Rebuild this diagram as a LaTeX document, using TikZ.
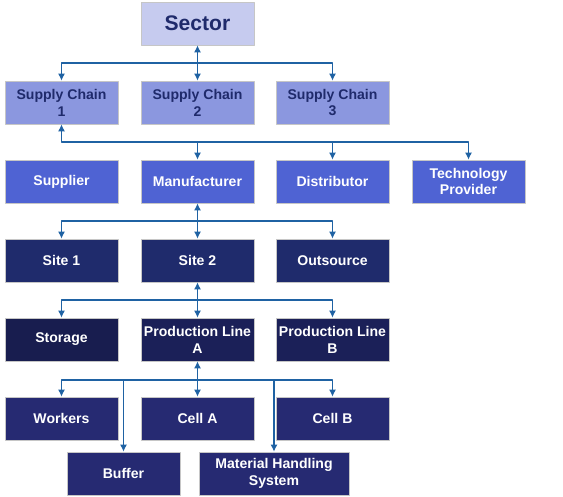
\documentclass[tikz,border=0pt]{standalone}
\usepackage{fontspec}
\setmainfont{Liberation Sans}
\usepackage{xcolor}
\usetikzlibrary{arrows.meta}
\definecolor{sectorfill}{HTML}{C6CBEF}
\definecolor{chainfill}{HTML}{8B97DF}
\definecolor{actorfill}{HTML}{4F63D3}
\definecolor{sitefill}{HTML}{1F2B6C}
\definecolor{storefill}{HTML}{181D4F}
\definecolor{linefill}{HTML}{1B2058}
\definecolor{cellfill}{HTML}{262A72}
\definecolor{navytext}{HTML}{1F2A6B}
\definecolor{linkblue}{HTML}{1F62A3}
\begin{document}
\begin{tikzpicture}[line cap=round,line join=round,x=0.025cm,y=-0.025cm,
	box/.style={draw=gray!45,line width=0.4pt,minimum width=2.825cm,minimum height=1.075cm,
		align=center,inner sep=1pt,font=\fontsize{10}{12}\selectfont\bfseries},
	link/.style={draw=linkblue,line width=1.2pt,-{Latex[length=5pt,width=5pt]}},
	blink/.style={link,{Latex[length=5pt,width=5pt]}-{Latex[length=5pt,width=5pt]}}]
	\useasboundingbox (0,0) rectangle (563,497);
	\node[box,fill=sectorfill,text=navytext,font=\fontsize{15}{18}\selectfont\bfseries] (sector) at (197.5,23.5) {Sector};
	\node[box,fill=chainfill,text=navytext] (sc1) at (61.5,102.5) {Supply Chain\\1};
	\node[box,fill=chainfill,text=navytext] (sc2) at (197.5,102.5) {Supply Chain\\2};
	\node[box,fill=chainfill,text=navytext] (sc3) at (332.5,102.5) {Supply Chain\\3};
	\node[box,fill=actorfill,text=white] (supplier) at (61.5,181.5) {Supplier};
	\node[box,fill=actorfill,text=white] (manu) at (197.5,181.5) {Manufacturer};
	\node[box,fill=actorfill,text=white] (distrib) at (332.5,181.5) {Distributor};
	\node[box,fill=actorfill,text=white] (tech) at (468.5,181.5) {Technology\\Provider};
	\node[box,fill=sitefill,text=white] (site1) at (61.5,260.5) {Site 1};
	\node[box,fill=sitefill,text=white] (site2) at (197.5,260.5) {Site 2};
	\node[box,fill=sitefill,text=white] (outsrc) at (332.5,260.5) {Outsource};
	\node[box,fill=storefill,text=white] (storage) at (61.5,339.5) {Storage};
	\node[box,fill=linefill,text=white] (plA) at (197.5,339.5) {Production Line\\A};
	\node[box,fill=linefill,text=white] (plB) at (332.5,339.5) {Production Line\\B};
	\node[box,fill=cellfill,text=white] (workers) at (61.5,418.5) {Workers};
	\node[box,fill=cellfill,text=white] (cellA) at (197.5,418.5) {Cell A};
	\node[box,fill=cellfill,text=white] (cellB) at (332.5,418.5) {Cell B};
	\node[box,fill=cellfill,text=white] (buffer) at (123.5,473.5) {Buffer};
	\node[box,fill=cellfill,text=white,minimum width=3.75cm] (mhs) at (274,473.5) {Material Handling\\System};
	\coordinate (bus1) at (197.5,63);
	\coordinate (bus2) at (197.5,142);
	\coordinate (bus3) at (197.5,221);
	\coordinate (bus4) at (197.5,300);
	\coordinate (bus5) at (197.5,380);
	\draw[blink] (sector.south) -- (sc2.north);
	\draw[blink] (sc1.north) |- (bus1) -| (sc3.north);
	\draw[blink] (sc1.south) |- (bus2) -| (tech.north);
	\draw[link] (manu.north |- bus2) -- (manu.north);
	\draw[link] (distrib.north |- bus2) -- (distrib.north);
	\draw[blink] (manu.south) -- (site2.north);
	\draw[link] (bus3) -| (site1.north);
	\draw[link] (bus3) -| (outsrc.north);
	\draw[blink] (site2.south) -- (plA.north);
	\draw[link] (bus4) -| (storage.north);
	\draw[link] (bus4) -| (plB.north);
	\draw[blink] (plA.south) -- (cellA.north);
	\draw[link] (bus5) -| (workers.north);
	\draw[link] (bus5) -| (cellB.north);
	\draw[link] (buffer.north |- bus5) -- (buffer.north);
	\draw[link] (mhs.north |- bus5) -- (mhs.north);
\end{tikzpicture}
\end{document}
